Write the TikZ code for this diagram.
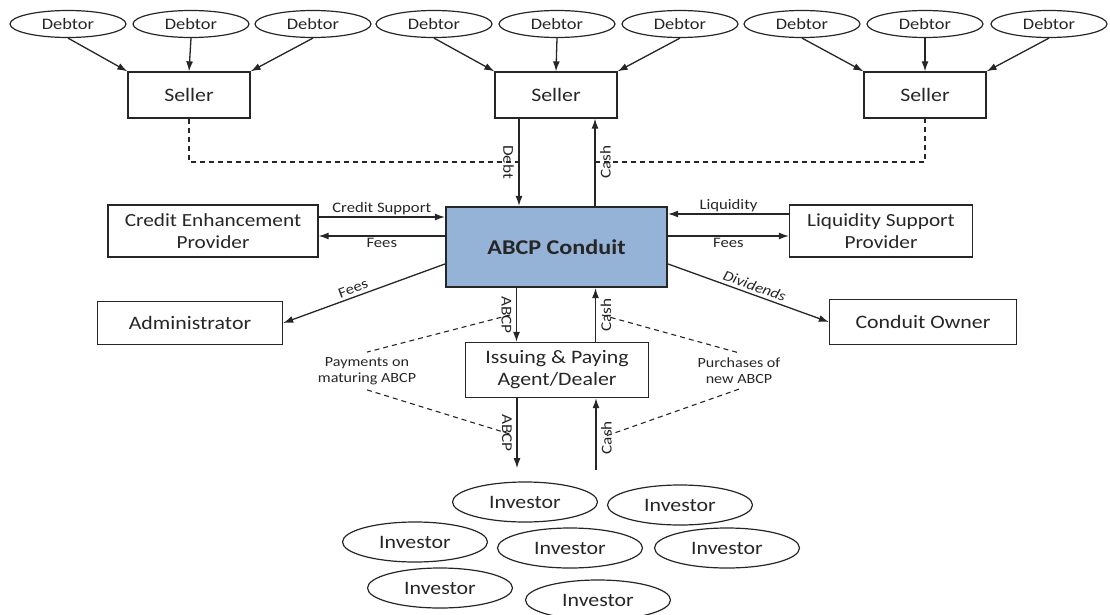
\documentclass[tikz,border=0pt]{standalone}
\usepackage{fontspec}
\setmainfont[FakeStretch=1.15]{Carlito}
\usetikzlibrary{arrows.meta,shapes.geometric,calc}
\definecolor{cblue}{HTML}{95B3D7}
\definecolor{ink}{HTML}{262626}
\begin{document}
\begin{tikzpicture}[x=1pt,y=-1pt,
  every node/.style={text=ink},
  ell/.style={ellipse, draw=ink, line width=1.2pt, minimum width=116pt, minimum height=27pt, inner sep=0pt, font=\fontsize{16}{18}\selectfont},
  inv/.style={ellipse, draw=ink, line width=1.2pt, minimum width=145pt, minimum height=40pt, inner sep=0pt, font=\fontsize{19}{21}\selectfont},
  box/.style={rectangle, draw=ink, line width=1.3pt, inner sep=0pt, align=center, font=\fontsize{19}{22}\selectfont},
  lab/.style={font=\fontsize{14.5}{16}\selectfont, inner sep=2pt},
  vlab/.style={font=\fontsize{15}{16}\selectfont, inner sep=4.5pt, anchor=north},
  arr/.style={draw=ink, line width=1.3pt, -{Latex[length=10pt,width=7pt]}},
  dsh/.style={draw=ink, line width=1.1pt, dash pattern=on 5pt off 4pt},
]
\useasboundingbox (0,0) rectangle (1110,615);

% debtors
\node[ell] (d1) at (68,24) {Debtor};
\node[ell] (d2) at (191,24) {Debtor};
\node[ell] (d3) at (313,24) {Debtor};
\node[ell] (d4) at (434,24) {Debtor};
\node[ell] (d5) at (557,24) {Debtor};
\node[ell] (d6) at (680,24) {Debtor};
\node[ell] (d7) at (802,24) {Debtor};
\node[ell] (d8) at (925,24) {Debtor};
\node[ell] (d9) at (1049,24) {Debtor};

% sellers
\node[box, minimum width=122pt, minimum height=46pt] (s1) at (189,95) {Seller};
\node[box, minimum width=122pt, minimum height=46pt] (s2) at (556,95) {Seller};
\node[box, minimum width=122pt, minimum height=46pt] (s3) at (925,95) {Seller};

\draw[arr] (d1.south) -- (s1.north west);
\draw[arr] (d2.south) -- (s1.north);
\draw[arr] (d3.south) -- (s1.north east);
\draw[arr] (d4.south) -- (s2.north west);
\draw[arr] (d5.south) -- (s2.north);
\draw[arr] (d6.south) -- (s2.north east);
\draw[arr] (d7.south) -- (s3.north west);
\draw[arr] (d8.south) -- (s3.north);
\draw[arr] (d9.south) -- (s3.north east);

% conduit
\node[box, fill=cblue, line width=2.2pt, minimum width=221pt, minimum height=80pt, font=\fontsize{21}{24}\selectfont\bfseries] (cond) at (556.5,247) {ABCP Conduit};

\node[box, minimum width=210pt, minimum height=52pt, font=\fontsize{18.5}{22}\selectfont] (cep) at (213,231) {Credit Enhancement\\Provider};
\node[box, minimum width=183pt, minimum height=52pt, font=\fontsize{18.5}{22}\selectfont] (lsp) at (881,231) {Liquidity Support\\Provider};
\node[box, minimum width=185pt, minimum height=43pt] (adm) at (190,323) {Administrator};
\node[box, minimum width=187pt, minimum height=45pt] (own) at (923,322) {Conduit Owner};
\node[box, minimum width=183pt, minimum height=55pt] (ipa) at (557,370) {Issuing \& Paying\\Agent/Dealer};

% seller <-> conduit
\coordinate (dashy) at (556,162);
\draw[arr] ([xshift=-37pt]s2.south) -- ([xshift=-37pt]s2.south |- cond.north) node[vlab, rotate=-90, pos=.5] {Debt};
\draw[arr] ([xshift=39pt]s2.south |- cond.north) -- ([xshift=39pt]s2.south) node[vlab, rotate=90, pos=.5] {Cash};
\draw[dsh] (s1.south) |- ([xshift=-37pt]dashy);
\draw[dsh] ([xshift=39pt]dashy) -| (s3.south);

% side providers
\draw[arr] ([yshift=14pt]cep.east) -- ([yshift=14pt]cep.east -| cond.west) node[lab, midway, above] {Credit Support};
\draw[arr] ([yshift=-5pt]cep.east -| cond.west) -- ([yshift=-5pt]cep.east) node[lab, midway, below] {Fees};
\draw[arr] ([yshift=17pt]lsp.west) -- ([yshift=17pt]lsp.west -| cond.east) node[lab, midway, above] {Liquidity};
\draw[arr] ([yshift=-5pt]lsp.west -| cond.east) -- ([yshift=-5pt]lsp.west) node[lab, midway, below] {Fees};

\draw[arr] ([yshift=-17pt]cond.west) -- (adm.east) node[lab, pos=.55, sloped, above, inner sep=3pt] {Fees};
\draw[arr] ([yshift=-17pt]cond.east) -- (own.west) node[lab, pos=.52, sloped, above, inner sep=3pt, font=\fontsize{14.5}{16}\selectfont\itshape] {Dividends};

% conduit <-> issuing agent
\draw[arr] ([xshift=-40pt]cond.south) -- ([xshift=-40pt]cond.south |- ipa.north) node[vlab, rotate=-90, pos=.5] {ABCP};
\draw[arr] ([xshift=39pt]cond.south |- ipa.north) -- ([xshift=39pt]cond.south) node[vlab, rotate=90, pos=.5] {Cash};

\coordinate (abot) at ($(ipa.south)+(-40,70)$);
\coordinate (cbot) at ($(ipa.south)+(39,72)$);
\draw[arr] ([xshift=-40pt]ipa.south) -- (abot) node[vlab, rotate=-90, pos=.5] {ABCP};
\draw[arr] (cbot) -- ([xshift=39pt]ipa.south) node[vlab, rotate=90, pos=.45] {Cash};

% dashed annotations
\node[lab, align=center, inner sep=5pt, font=\fontsize{14}{16}\selectfont] (pay) at (367,371) {Payments on\\maturing ABCP};
\node[lab, align=center, inner sep=5pt, font=\fontsize{14}{16}\selectfont] (pur) at (739,371) {Purchases of\\new ABCP};
\coordinate (p1) at (510,315);
\coordinate (p2) at (513,435);
\coordinate (q1) at (602,315);
\coordinate (q2) at (603,437);
\draw[dsh] (p1) -- (pay.north);
\draw[dsh] (pay.south) -- (p2);
\draw[dsh] (q1) -- (pur.north);
\draw[dsh] (pur.south) -- (q2);

% investors
\node[inv] (i1) at (525,502) {Investor};
\node[inv] (i2) at (680,505) {Investor};
\node[inv] (i3) at (415,542) {Investor};
\node[inv] (i4) at (570,548) {Investor};
\node[inv] (i5) at (727,548) {Investor};
\node[inv] (i6) at (440,588) {Investor};
\node[inv] (i7) at (598,600) {Investor};
\end{tikzpicture}
\end{document}
